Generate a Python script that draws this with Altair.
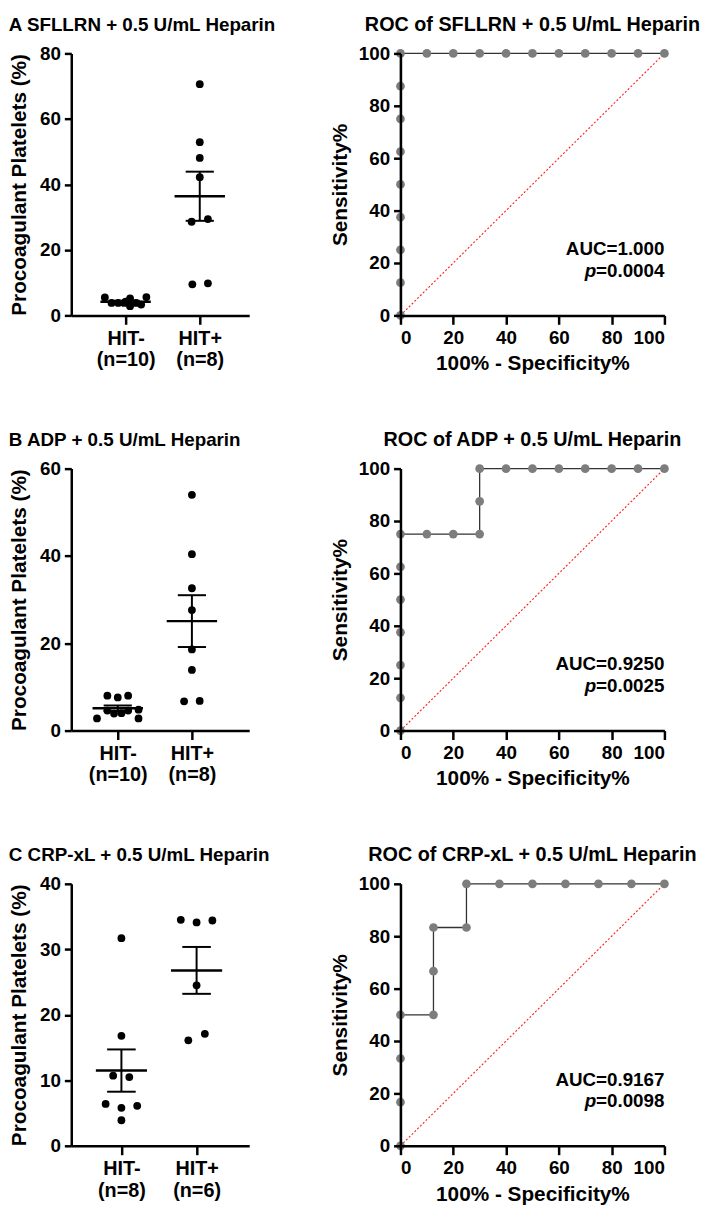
import json
import altair as alt
import pandas as pd

FONT = "Liberation Sans"

# ---------------- scatter data (Procoagulant Platelets %) ----------------
A_NEG = [5.5, 3.8, 3.8, 3.8, 5.2, 2.8, 3.8, 3.3, 5.6, 4.2]
A_NEG_J = [-0.28, -0.19, -0.10, -0.02, 0.06, 0.06, 0.14, 0.21, 0.28, 0.0]
A_POS = [70.6, 52.9, 48.1, 42.2, 28.6, 29.4, 9.5, 9.8]
A_POS_J = [0, 0, 0, 0, -0.11, 0.11, -0.10, 0.11]

B_NEG = [2.8, 8.0, 7.6, 8.0, 4.6, 3.9, 4.0, 4.6, 4.8, 2.8]
B_NEG_J = [-0.28, -0.14, 0.0, 0.14, -0.14, -0.05, 0.05, 0.14, 0.28, 0.28]
B_POS = [54.0, 40.4, 32.6, 27.6, 18.6, 13.9, 6.7, 6.8]
B_POS_J = [0, 0, 0, 0, 0, 0, -0.105, 0.105]

C_NEG = [31.7, 16.8, 10.7, 10.5, 6.4, 5.8, 6.1, 3.9]
C_NEG_J = [0, 0, -0.11, 0.105, -0.21, 0, 0.21, 0]
C_POS = [34.5, 34.1, 34.4, 24.5, 16.1, 17.1]
C_POS_J = [-0.21, 0, 0.21, 0, -0.11, 0.11]

# ---------------- ROC data (100% - Specificity%, Sensitivity%) ----------------
A_FPR = [0, 0, 0, 0, 0, 0, 0, 0, 0, 10, 20, 30, 40, 50, 60, 70, 80, 90, 100]
A_SENS = [0, 12.5, 25, 37.5, 50, 62.5, 75, 87.5, 100, 100, 100, 100, 100, 100, 100, 100, 100, 100, 100]

B_FPR = [0, 0, 0, 0, 0, 0, 0, 10, 20, 30, 30, 30, 40, 50, 60, 70, 80, 90, 100]
B_SENS = [0, 12.5, 25, 37.5, 50, 62.5, 75, 75, 75, 75, 87.5, 100, 100, 100, 100, 100, 100, 100, 100]

C_FPR = [0, 0, 0, 0, 12.5, 12.5, 12.5, 25, 25, 37.5, 50, 62.5, 75, 87.5, 100]
C_SENS = [0, 16.67, 33.33, 50, 50, 66.67, 83.33, 83.33, 100, 100, 100, 100, 100, 100, 100]

SC_W, SC_H = 180, 265
ROC_W, ROC_H = 267, 265


def scatter_panel(neg, negj, pos, posj, labels, ymax, ystep, xdom, title):
    df = pd.DataFrame({
        "g": [0] * len(neg) + [1] * len(pos),
        "v": neg + pos,
        "j": negj + posj,
    })
    base = alt.Chart(df)
    xscale = alt.Scale(domain=xdom, nice=False, zero=False)
    yscale = alt.Scale(domain=[0, ymax], nice=False)
    lab_expr = "datum.value == 0 ? %s : %s" % (json.dumps(labels[0]), json.dumps(labels[1]))
    xaxis = alt.Axis(values=[0, 1], labelExpr=lab_expr, title=None, tickSize=9,
                     labelPadding=4, labelLineHeight=22, labelAngle=0, labelFontSize=20)
    yaxis = alt.Axis(values=list(range(0, ymax + 1, ystep)), title="Procoagulant Platelets (%)",
                     titlePadding=10)

    pts = base.transform_calculate(x="datum.g + datum.j").mark_circle(
        size=62, color="black", opacity=1
    ).encode(
        x=alt.X("x:Q", scale=xscale, axis=xaxis),
        y=alt.Y("v:Q", scale=yscale, axis=yaxis),
    )
    stats = base.transform_aggregate(
        m="mean(v)", se="stderr(v)", groupby=["g"]
    ).transform_calculate(
        lo="datum.m - datum.se", hi="datum.m + datum.se",
        a="datum.g - 0.34", b="datum.g + 0.34",
        ca="datum.g - 0.19", cb="datum.g + 0.19",
    )
    mean_rule = stats.mark_rule(strokeWidth=2.5, color="black").encode(
        x=alt.X("a:Q", scale=xscale, axis=xaxis), x2="b:Q",
        y=alt.Y("m:Q", scale=yscale, axis=yaxis))
    err = stats.mark_rule(strokeWidth=2, color="black").encode(
        x=alt.X("g:Q", scale=xscale, axis=xaxis),
        y=alt.Y("lo:Q", scale=yscale, axis=yaxis), y2="hi:Q")
    cap_lo = stats.mark_rule(strokeWidth=2, color="black").encode(
        x=alt.X("ca:Q", scale=xscale, axis=xaxis), x2="cb:Q",
        y=alt.Y("lo:Q", scale=yscale, axis=yaxis))
    cap_hi = stats.mark_rule(strokeWidth=2, color="black").encode(
        x=alt.X("ca:Q", scale=xscale, axis=xaxis), x2="cb:Q",
        y=alt.Y("hi:Q", scale=yscale, axis=yaxis))
    return alt.layer(pts, mean_rule, err, cap_lo, cap_hi).properties(
        width=SC_W, height=SC_H,
        title=alt.TitleParams(title, anchor="start", frame="bounds", offset=10,
                              fontSize=19),
    )


def roc_panel(fpr, sens, auc, pval, title):
    df = pd.DataFrame({"i": list(range(len(fpr))), "fx": fpr, "sy": sens})
    xs = alt.Scale(domain=[0, 100], nice=False)
    ys = alt.Scale(domain=[0, 100], nice=False)
    xaxis = alt.Axis(values=[0, 20, 40, 60, 80, 100], title="100% - Specificity%",
                     tickSize=9, labelPadding=4, titlePadding=6, zindex=1)
    yaxis = alt.Axis(values=[0, 20, 40, 60, 80, 100], title="Sensitivity%",
                     titlePadding=8, zindex=1)
    X = alt.X("fx:Q", scale=xs, axis=xaxis)
    Y = alt.Y("sy:Q", scale=ys, axis=yaxis)

    diag_df = pd.DataFrame({"fx": [0, 100], "sy": [0, 100]})
    diag = alt.Chart(diag_df).mark_line(color="#ff1a1a", strokeWidth=1.1,
                                         strokeDash=[2, 2]).encode(x=X, y=Y)
    base = alt.Chart(df)
    line = base.mark_line(color="#333333", strokeWidth=1.3).encode(x=X, y=Y, order="i:Q")
    pts = base.mark_circle(size=78, color="#7d7d7d", opacity=1).encode(x=X, y=Y)

    auc_t = alt.Chart(pd.DataFrame({"t": [auc]})).mark_text(
        align="right", baseline="alphabetic", fontSize=19, fontWeight="bold", font=FONT,
        color="black"
    ).encode(x=alt.value(ROC_W), y=alt.value(204), text="t:N")
    p_t = alt.Chart(pd.DataFrame({"t": [pval]})).mark_text(
        align="right", baseline="alphabetic", fontSize=19, fontWeight="bold", font=FONT,
        color="black"
    ).encode(x=alt.value(ROC_W), y=alt.value(226), text="t:N")
    p_i = alt.Chart(pd.DataFrame({"t": ["p"]})).mark_text(
        align="right", baseline="alphabetic", fontSize=19, fontWeight="bold",
        fontStyle="italic", font=FONT, color="black"
    ).encode(x=alt.value(ROC_W - 69), y=alt.value(226), text="t:N")

    return alt.layer(diag, line, pts, auc_t, p_t, p_i).properties(
        width=ROC_W, height=ROC_H,
        title=alt.TitleParams(title, anchor="middle", offset=10, fontSize=20),
    )


sA = scatter_panel(A_NEG, A_NEG_J, A_POS, A_POS_J,
                   [["HIT-", "(n=10)"], ["HIT+", "(n=8)"]], 80, 20, [-0.733, 1.667],
                   "A  SFLLRN + 0.5 U/mL Heparin")
rA = roc_panel(A_FPR, A_SENS, "AUC=1.000", "=0.0004", "ROC of SFLLRN + 0.5 U/mL Heparin")

sB = scatter_panel(B_NEG, B_NEG_J, B_POS, B_POS_J,
                   [["HIT-", "(n=10)"], ["HIT+", "(n=8)"]], 60, 20, [-0.627, 1.773],
                   "B   ADP + 0.5 U/mL Heparin")
rB = roc_panel(B_FPR, B_SENS, "AUC=0.9250", "=0.0025", "ROC of ADP + 0.5 U/mL Heparin")

sC = scatter_panel(C_NEG, C_NEG_J, C_POS, C_POS_J,
                   [["HIT-", "(n=8)"], ["HIT+", "(n=6)"]], 40, 10, [-0.667, 1.70],
                   "C  CRP-xL + 0.5 U/mL Heparin")
rC = roc_panel(C_FPR, C_SENS, "AUC=0.9167", "=0.0098", "ROC of CRP-xL + 0.5 U/mL Heparin")

chart = alt.concat(
    sA, rA, sB, rB, sC, rC, columns=2,
    spacing={"row": 155, "column": 153}, bounds="flush",
).properties(
    background="white",
    padding=0,
).configure_view(
    stroke=None,
).configure_axis(
    labelFont=FONT, labelFontSize=19, labelFontWeight="bold", labelColor="black",
    titleFont=FONT, titleFontSize=21, titleFontWeight="bold", titleColor="black",
    domainColor="black", domainWidth=2.5, tickColor="black", tickWidth=2.5,
    tickSize=7, grid=False, labelPadding=4,
).configure_title(
    font=FONT, fontWeight="bold", color="black",
)

chart.save("out.html", embed_options={"renderer": "svg", "actions": False})
